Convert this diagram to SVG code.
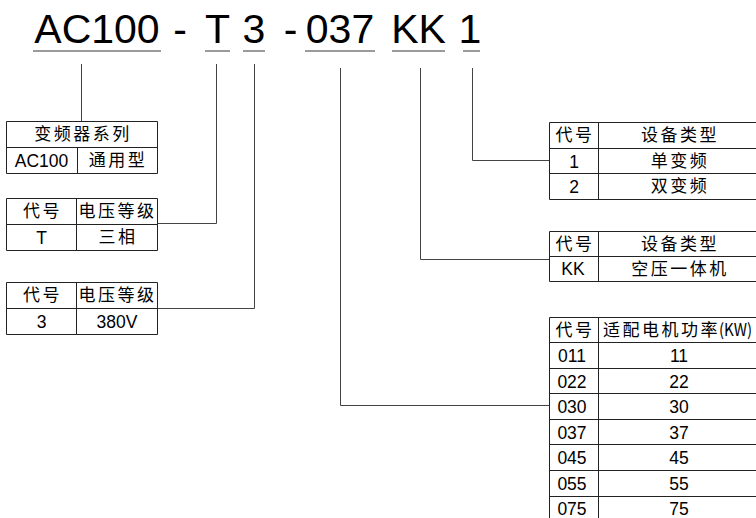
<svg xmlns="http://www.w3.org/2000/svg" width="756" height="518" viewBox="0 0 756 518">
<style>
.t{font-family:"Liberation Sans","Noto Sans CJK SC",Arial,sans-serif;font-size:17.5px;fill:#000;text-anchor:middle}
.c{font-family:"Noto Sans CJK SC","Liberation Sans",sans-serif;font-size:17px;fill:#000;text-anchor:middle;letter-spacing:2.5px}
.big{font-family:"Liberation Sans",Arial,sans-serif;font-size:41px;fill:#000;text-anchor:middle}
.ul{stroke:#7a7a7a;stroke-width:1.6;fill:none}
.tb{stroke:#222;stroke-width:1;fill:none}
.cn{stroke:#444;stroke-width:1;fill:none}
</style>
<rect width="756" height="518" fill="#fff"/>
<g id="code">
<text class="big" x="97" y="43">AC100</text>
<text class="big" x="180" y="43">-</text>
<text class="big" x="217.5" y="43">T</text>
<text class="big" x="254" y="43">3</text>
<text class="big" x="290.5" y="43">-</text>
<text class="big" x="340" y="43">037</text>
<text class="big" x="418.5" y="43">KK</text>
<text class="big" x="470" y="43">1</text>
<path class="ul" d="M33 51H161M205 51H230M243 51H265M305 51H375M392 51H445M463 51H480"/>
</g>
<g id="connectors">
<path class="cn" d="M81.5 64V121.5"/>
<path class="cn" d="M216.5 64V223.5H157"/>
<path class="cn" d="M254.5 64V308.5H157"/>
<path class="cn" d="M340.5 68V405.5H549"/>
<path class="cn" d="M420.5 68V259.5H549"/>
<path class="cn" d="M472.5 68V160.5H549"/>
</g>
<g id="series">
<path class="tb" d="M6.5 121.5H157.5V173.5H6.5ZM6.5 147.5H157.5M77.5 147.5V173.5"/>
<text class="c" x="83" y="140">变频器系列</text>
<text class="t" x="41.5" y="166.5">AC100</text>
<text class="c" x="118" y="166">通用型</text>
</g>
<g id="phase">
<path class="tb" d="M6.5 198.5H157.5V250.5H6.5ZM6.5 224.5H157.5M76.5 198.5V250.5"/>
<text class="c" x="42.5" y="217">代号</text>
<text class="c" x="117.5" y="217">电压等级</text>
<text class="t" x="41.5" y="243.5">T</text>
<text class="c" x="118" y="243">三相</text>
</g>
<g id="voltage">
<path class="tb" d="M6.5 282.5H157.5V334.5H6.5ZM6.5 308.5H157.5M76.5 282.5V334.5"/>
<text class="c" x="42.5" y="301">代号</text>
<text class="c" x="117.5" y="301">电压等级</text>
<text class="t" x="41.5" y="327.5">3</text>
<text class="t" x="117" y="327.5">380V</text>
</g>
<g id="type">
<path class="tb" d="M757 122.5H549.5V199.5H757M549.5 148.5H757M549.5 173.5H757M598.5 122.5V199.5"/>
<text class="c" x="575" y="141">代号</text>
<text class="c" x="680" y="141">设备类型</text>
<text class="t" x="574" y="167.5">1</text>
<text class="c" x="680" y="167">单变频</text>
<text class="t" x="574" y="192.5">2</text>
<text class="c" x="680" y="192">双变频</text>
</g>
<g id="kk">
<path class="tb" d="M757 231.5H549.5V281.5H757M549.5 256.5H757M598.5 231.5V281.5"/>
<text class="c" x="575" y="250">代号</text>
<text class="c" x="680" y="250">设备类型</text>
<text class="t" x="573" y="275">KK</text>
<text class="c" x="680" y="275">空压一体机</text>
</g>
<g id="power">
<path class="tb" d="M757 317.5H549.5V530M549.5 342.5H757M549.5 368.5H757M549.5 393.5H757M549.5 419.5H757M549.5 444.5H757M549.5 470.5H757M549.5 496.5H757M598.5 317.5V530"/>
<text class="c" x="575" y="336">代号</text>
<text class="c" x="603" y="336" style="text-anchor:start">适配电机功率<tspan x="719" textLength="33" lengthAdjust="spacingAndGlyphs" style="letter-spacing:0">(KW)</tspan></text>
<text class="t" x="572" y="362">011</text><text class="t" x="679" y="362">11</text>
<text class="t" x="572" y="387.5">022</text><text class="t" x="679" y="387.5">22</text>
<text class="t" x="572" y="413">030</text><text class="t" x="679" y="413">30</text>
<text class="t" x="572" y="438.5">037</text><text class="t" x="679" y="438.5">37</text>
<text class="t" x="572" y="464">045</text><text class="t" x="679" y="464">45</text>
<text class="t" x="572" y="489.5">055</text><text class="t" x="679" y="489.5">55</text>
<text class="t" x="572" y="515">075</text><text class="t" x="679" y="515">75</text>
</g>
</svg>
